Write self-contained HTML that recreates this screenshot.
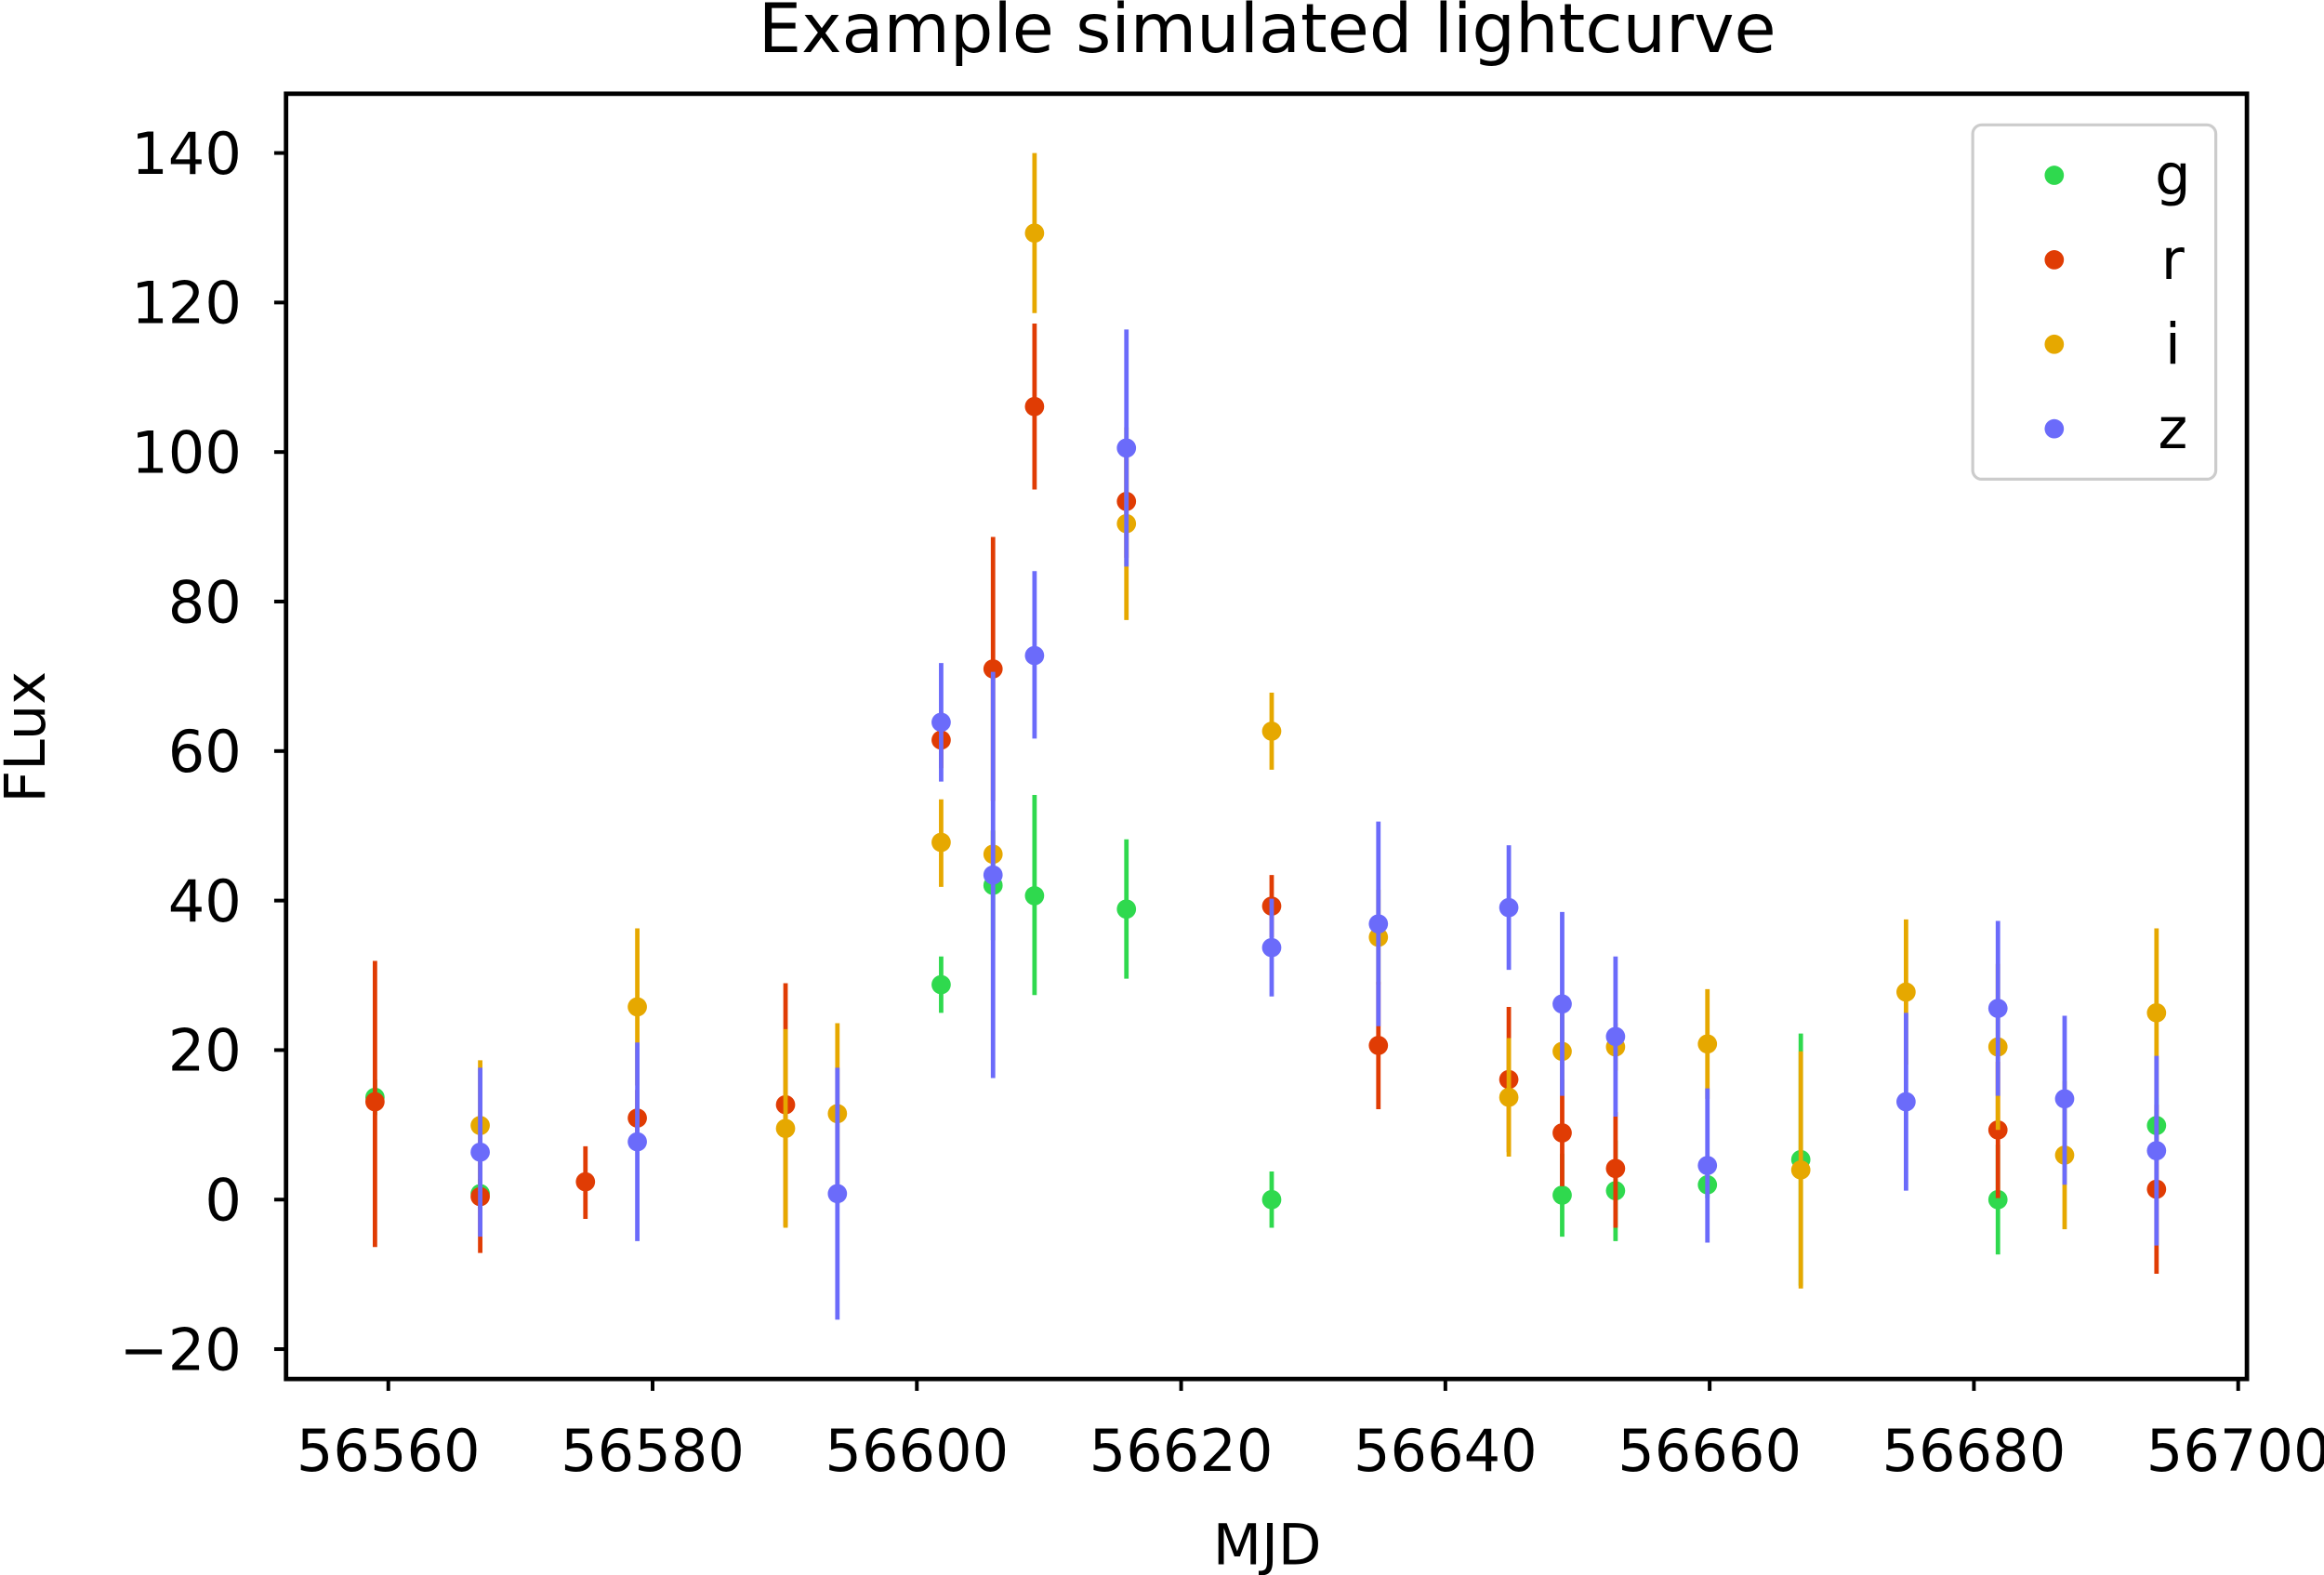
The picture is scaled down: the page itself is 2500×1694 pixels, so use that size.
<!DOCTYPE html>
<html><head><meta charset="utf-8"><style>
html,body{margin:0;padding:0;background:#fff}
svg{display:block}
text{font-family:"DejaVu Sans","Liberation Sans",sans-serif;fill:#000}
</style></head><body>
<svg id="s" width="2500" height="1694" viewBox="0 0 1568 1062" xmlns="http://www.w3.org/2000/svg">
<rect width="1568" height="1062" fill="#fff"/>
<text x="855" y="35" font-size="46" text-anchor="middle">Example simulated lightcurve</text>
<g id="data"></g>
<rect x="193" y="63" width="1323" height="867" fill="none" stroke="#000" stroke-width="3"/>
<g id="ticks" stroke="#000" stroke-width="2.5"></g>
<g id="labels" font-size="39"></g>
<text x="855" y="1055" font-size="38" text-anchor="middle">MJD</text>
<text transform="translate(30,497) rotate(-90)" font-size="38" text-anchor="middle">FLux</text>
<rect x="1331" y="84" width="164" height="239" rx="6" fill="#fff" fill-opacity="0.8" stroke="#ccc" stroke-width="2"/>
<circle cx="1386" cy="118" r="6.5" fill="#2fd94e"/><text x="1466" y="131" font-size="38" text-anchor="middle">g</text>
<circle cx="1386" cy="175" r="6.5" fill="#e03c04"/><text x="1466" y="188" font-size="38" text-anchor="middle">r</text>
<circle cx="1386" cy="232" r="6.5" fill="#e6a800"/><text x="1466" y="245" font-size="38" text-anchor="middle">i</text>
<circle cx="1386" cy="289" r="6.5" fill="#6b6bfa"/><text x="1466" y="302" font-size="38" text-anchor="middle">z</text>
</svg>
<script>
var NS="http://www.w3.org/2000/svg";
function el(p,t,a){var e=document.createElementNS(NS,t);for(var k in a)e.setAttribute(k,a[k]);p.appendChild(e);return e;}
var T=document.getElementById("ticks"),L=document.getElementById("labels"),D=document.getElementById("data");
for(var i=0;i<8;i++){var x=262+i*178.3;el(T,"line",{x1:x,y1:930,x2:x,y2:938});var t=el(L,"text",{x:x,y:992,"text-anchor":"middle"});t.textContent=String(56560+20*i);}
for(var v=-20;v<=140;v+=20){var y=809-v*5.043;el(T,"line",{x1:185,y1:y,x2:193,y2:y});var t=el(L,"text",{x:163,y:y+14,"text-anchor":"end"});t.textContent=(v<0?"\u2212":"")+Math.abs(v);}
var S={
"#2fd94e":[[253,740,728,752],[324,805,795,815],[635,664,645,683],[670,597,560,634],[698,604,536,671],[760,613,566,660],[858,809,790,828],[1215,782,697,867],[1054,806,778,834],[1090,803,769,837],[1152,799,790,808],[1348,809,772,846],[1455,759,740,778]],
"#e03c04":[[253,743,648,841],[324,807,769,845],[395,797,773,822],[430,754,735,773],[530,745,663,827],[635,499,480,518],[670,451,362,540],[698,274,218,330],[760,338,300,376],[858,611,590,632],[930,705,662,748],[1018,728,679,777],[1054,764,728,800],[1090,788,750,828],[1348,762,716,808],[1455,802,745,859]],
"#e6a800":[[324,759,715,803],[430,679,626,732],[530,761,694,828],[565,751,690,812],[635,568,539,598],[670,576,560,592],[698,157,103,211],[760,353,288,418],[858,493,467,519],[930,632,600,664],[1018,740,700,780],[1054,709,680,738],[1090,706,690,722],[1152,704,667,741],[1215,789,709,869],[1286,669,620,718],[1348,706,650,762],[1393,779,729,829],[1455,683,626,740]],
"#6b6bfa":[[324,777,720,834],[430,770,703,837],[565,805,720,890],[635,487,447,527],[670,590,453,727],[698,442,385,498],[760,302,222,382],[858,639,606,672],[930,623,554,692],[1018,612,570,654],[1054,677,615,739],[1090,699,645,753],[1152,786,734,838],[1286,743,683,803],[1348,680,621,739],[1393,741,685,799],[1455,776,712,840]]};
for(var c in S){S[c].forEach(function(p){el(D,"line",{x1:p[0],y1:p[2],x2:p[0],y2:p[3],stroke:c,"stroke-width":3});el(D,"circle",{cx:p[0],cy:p[1],r:6.5,fill:c});});}
</script>
</body></html>
